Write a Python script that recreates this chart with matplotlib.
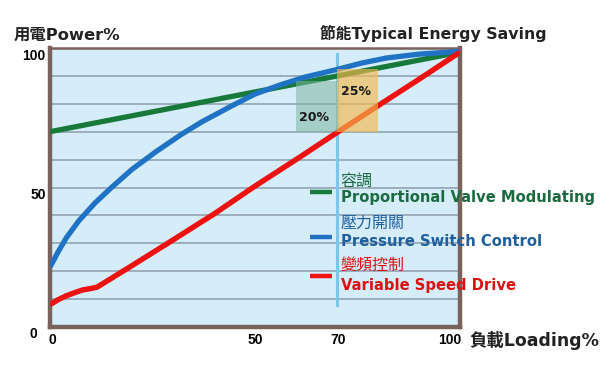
import matplotlib
matplotlib.use("Agg")
import matplotlib.pyplot as plt
import matplotlib.transforms as mtransforms

plt.rcParams['font.family'] = ['DejaVu Sans', 'Noto Sans CJK TC']

# ---- data ----
load_green = [0, 100]
power_green = [70, 98.5]

load_blue = [0, 1, 2, 4, 7, 11, 15, 20, 26, 32, 37, 44, 50, 56, 62, 70, 76, 82, 90, 100]
power_blue = [21.5, 24.2, 27.0, 32.0, 38.0, 44.5, 50.0, 56.5, 63.0, 69.0, 73.5, 79.0,
              83.5, 86.7, 89.5, 92.3, 94.6, 96.4, 97.8, 98.8]

load_red = [0, 2, 4, 6, 8, 10, 11.5, 20, 30, 40, 50, 60, 70, 80, 90, 100]
power_red = [8, 9.8, 11.2, 12.3, 13.3, 13.8, 14.3, 22.0, 31.2, 40.5, 50.5, 60.0, 69.7, 79.3, 88.8, 98.5]

box20_x = [60, 70]
box20_y = [70, 88]
box25_x = [70, 80]
box25_y = [70, 92.5]

xticks = [0, 50, 70, 100]
yticks = [0, 50, 100]

legend_cn = ['容調', '壓力開關', '變頻控制']
legend_en = ['Proportional Valve Modulating', 'Pressure Switch Control', 'Variable Speed Drive']

c_green = '#17793a'
c_blue = '#1f72c4'
c_red = '#ee1111'
c_text_green = '#1b6a40'
c_text_blue = '#1f5f9e'
c_text_red = '#dd1111'
spine_c = '#7a625c'

tick_family = ['Liberation Sans', 'DejaVu Sans']
tick_size = 10

W, H = 600, 380
fig = plt.figure(figsize=(W / 100, H / 100), dpi=100)
fig.patch.set_facecolor('white')

L, R, T, B = 50, 460, 48, 327
ax = fig.add_axes([L / W, 1 - B / H, (R - L) / W, (B - T) / H])
ax.set_facecolor('#d5ecf9')
ax.set_xlim(0, 100)
ax.set_ylim(0, 100)

# grid
for g in range(10, 100, 10):
    ax.axhline(g, color='#8d9dab', lw=1.1, zorder=1)

# spines
for s in ['left', 'bottom', 'right']:
    ax.spines[s].set_color(spine_c)
    ax.spines[s].set_linewidth(3.2)
ax.spines['top'].set_color(spine_c)
ax.spines['top'].set_linewidth(1.8)

# vertical marker at 70
ax.plot([70, 70], [8, 98], color='#7cc6ea', lw=2.2, zorder=2)

# curves
ax.plot(load_green, power_green, color=c_green, lw=3.8, zorder=3, solid_capstyle='butt')
ax.plot(load_blue, power_blue, color=c_blue, lw=3.8, zorder=3, solid_capstyle='butt',
        solid_joinstyle='round')
ax.plot(load_red, power_red, color=c_red, lw=3.9, zorder=3, solid_capstyle='butt',
        solid_joinstyle='round')

# saving boxes (semi-transparent over lines)
ax.fill_between(box20_x, box20_y[0], box20_y[1], color='#7fb89c', alpha=0.55, lw=0, zorder=4)
ax.fill_between(box25_x, box25_y[0], box25_y[1], color='#f5b84a', alpha=0.65, lw=0, zorder=4)
ax.text(64.3, 75, '20%', ha='center', va='center', fontsize=9, fontweight='bold', color='#1a1a1a', zorder=5)
ax.text(74.6, 84.3, '25%', ha='center', va='center', fontsize=9, fontweight='bold', color='#1a1a1a', zorder=5)

# legend
leg_colors = [c_green, c_blue, c_red]
leg_tcolors = [c_text_green, c_text_blue, c_text_red]
leg_line_y = [48.4, 32.3, 18.3]
cn_y = [52.4, 37.2, 22.2]
en_y = [46.3, 30.5, 14.7]
for i in range(3):
    ax.plot([63.4, 68.8], [leg_line_y[i]] * 2, color=leg_colors[i], lw=3.2, zorder=5, solid_capstyle='butt')
    ax.text(70.9, cn_y[i], legend_cn[i], ha='left', va='center', fontsize=11.5,
            color=leg_tcolors[i], zorder=6, clip_on=False)
    ax.text(70.9, en_y[i], legend_en[i], ha='left', va='center', fontsize=10.6,
            fontweight='bold', color=leg_tcolors[i], zorder=6, clip_on=False)

# ticks
ax.set_xticks(xticks)
ax.set_xticklabels([str(v) for v in xticks], fontsize=tick_size, fontweight='bold', family=tick_family)
ax.set_yticks(yticks)
ax.set_yticklabels([str(v) for v in yticks], fontsize=tick_size, fontweight='bold', family=tick_family)
ax.tick_params(axis='both', length=0)
ax.tick_params(axis='x', pad=4)
ax.tick_params(axis='y', pad=3)
for lab in ax.get_yticklabels():
    lab.set_transform(lab.get_transform() + mtransforms.ScaledTranslation(0, -6 / 100, fig.dpi_scale_trans))
ylabs = ax.get_yticklabels()
ylabs[0].set_transform(ylabs[0].get_transform() + mtransforms.ScaledTranslation(-9 / 100, 0, fig.dpi_scale_trans))
xlabs = ax.get_xticklabels()
xshift = [2, 0, 1, -10]
for lab, dx in zip(xlabs, xshift):
    lab.set_transform(lab.get_transform() + mtransforms.ScaledTranslation(dx / 100, 0, fig.dpi_scale_trans))

# titles
fig.text(14 / W, 1 - 35 / H, '用電Power%', ha='left', va='center', fontsize=11.8,
         fontweight='bold', color='#222222')
fig.text(320 / W, 1 - 33 / H, '節能Typical Energy Saving', ha='left', va='center', fontsize=11.3,
         fontweight='bold', color='#222222')
fig.text(469 / W, 1 - 340 / H, '負載Loading%', ha='left', va='center', fontsize=12.5,
         fontweight='bold', color='#222222')

fig.savefig('out.png', dpi=100)
